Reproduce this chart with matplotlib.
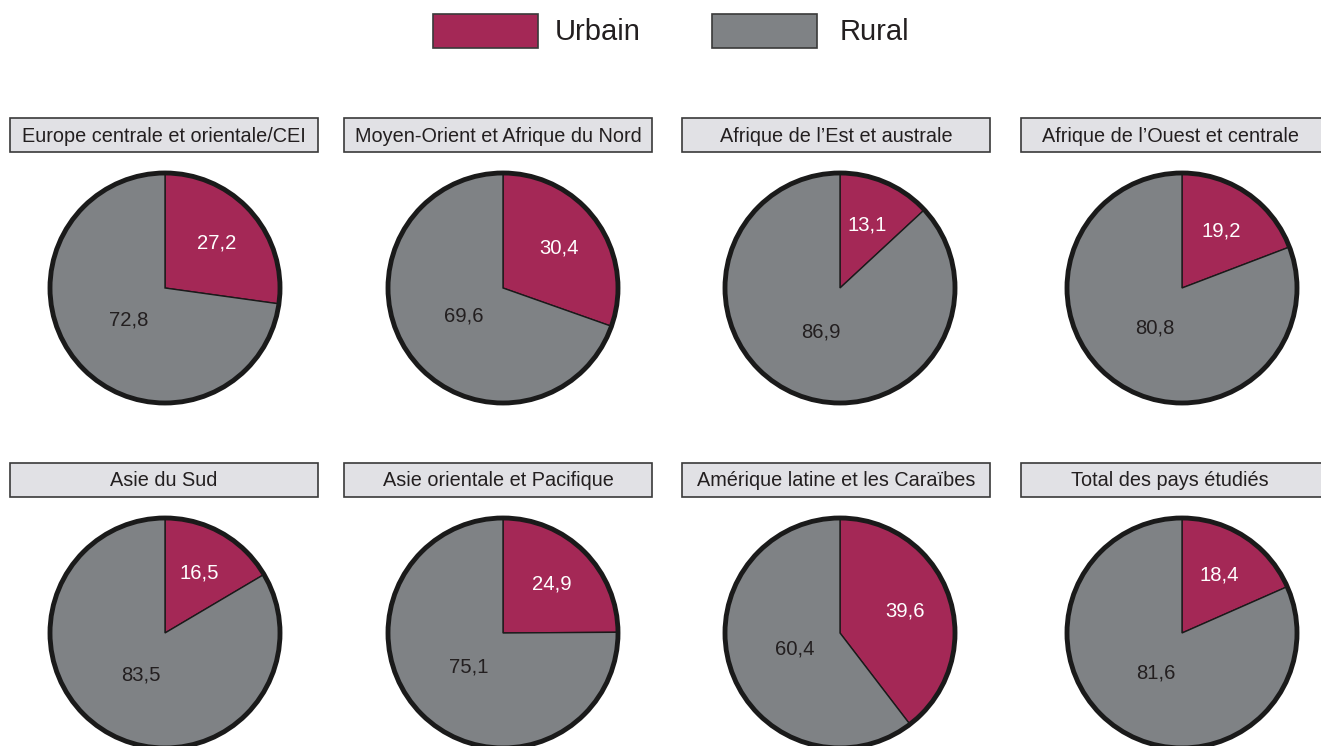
import matplotlib.pyplot as plt
from matplotlib.patches import Rectangle, Circle
import numpy as np

plt.rcParams['font.family'] = ['Liberation Sans', 'DejaVu Sans']

# data
regions = [
    "Europe centrale et orientale/CEI",
    "Moyen-Orient et Afrique du Nord",
    "Afrique de l\u2019Est et australe",
    "Afrique de l\u2019Ouest et centrale",
    "Asie du Sud",
    "Asie orientale et Pacifique",
    "Am\u00e9rique latine et les Cara\u00efbes",
    "Total des pays \u00e9tudi\u00e9s",
]
urbain = [27.2, 30.4, 13.1, 19.2, 16.5, 24.9, 39.6, 18.4]
rural = [72.8, 69.6, 86.9, 80.8, 83.5, 75.1, 60.4, 81.6]
urbain_labels = ["27,2", "30,4", "13,1", "19,2", "16,5", "24,9", "39,6", "18,4"]
rural_labels = ["72,8", "69,6", "86,9", "80,8", "83,5", "75,1", "60,4", "81,6"]
series = ["Urbain", "Rural"]

c_urb = '#A42856'
c_rur = '#7F8285'
W, H = 1321, 746

fig = plt.figure(figsize=(W / 100, H / 100), dpi=100)
ax = fig.add_axes([0, 0, 1, 1])

# layout in pixel coords (y from top)
box_x = [10, 344, 682, 1021]
box_w = 308
box_top = [118, 463]
box_h = 34
pie_cx = [165, 503, 840, 1182]
pie_cy = [288, 633]
R = 115

for i, name in enumerate(regions):
    row, col = divmod(i, 4)
    bx = box_x[col]
    by = H - box_top[row] - box_h
    ax.add_patch(Rectangle((bx, by), box_w, box_h, facecolor='#E1E1E5',
                           edgecolor='#3a3a3a', lw=1.2))
    ax.text(bx + box_w / 2 if col < 3 else 1170, by + box_h / 2 - 1, name,
            ha='center', va='center', fontsize=14.3, color='#231F20')

    cx, cy = pie_cx[col], H - pie_cy[row]
    wedges, _ = ax.pie([urbain[i], rural[i]], colors=[c_urb, c_rur],
                       startangle=90, counterclock=False, center=(cx, cy),
                       radius=R, frame=True,
                       wedgeprops=dict(edgecolor='#1a1a1a', linewidth=1))
    ax.add_patch(Circle((cx, cy), R, fill=False, edgecolor='#1a1a1a', lw=3.5))
    for w, lab, dist, tc in [(wedges[0], urbain_labels[i], 0.6, 'white'),
                             (wedges[1], rural_labels[i], 0.42, '#231F20')]:
        ang = np.deg2rad((w.theta1 + w.theta2) / 2)
        ax.text(cx + dist * R * np.cos(ang), cy + dist * R * np.sin(ang), lab,
                ha='center', va='center', fontsize=14.6, color=tc)

# legend
leg_x = [433, 712]
leg_tx = [555, 840]
for lx, tx, s, c in zip(leg_x, leg_tx, series, [c_urb, c_rur]):
    ax.add_patch(Rectangle((lx, H - 48), 105, 34, facecolor=c,
                           edgecolor='#3a3a3a', lw=1.2))
    ax.text(tx, H - 32, s, ha='left', va='center', fontsize=21,
            color='#231F20')

ax.set_xlim(0, W)
ax.set_ylim(0, H)
ax.set_aspect('equal')
ax.axis('off')

fig.savefig('out.png', dpi=100)
